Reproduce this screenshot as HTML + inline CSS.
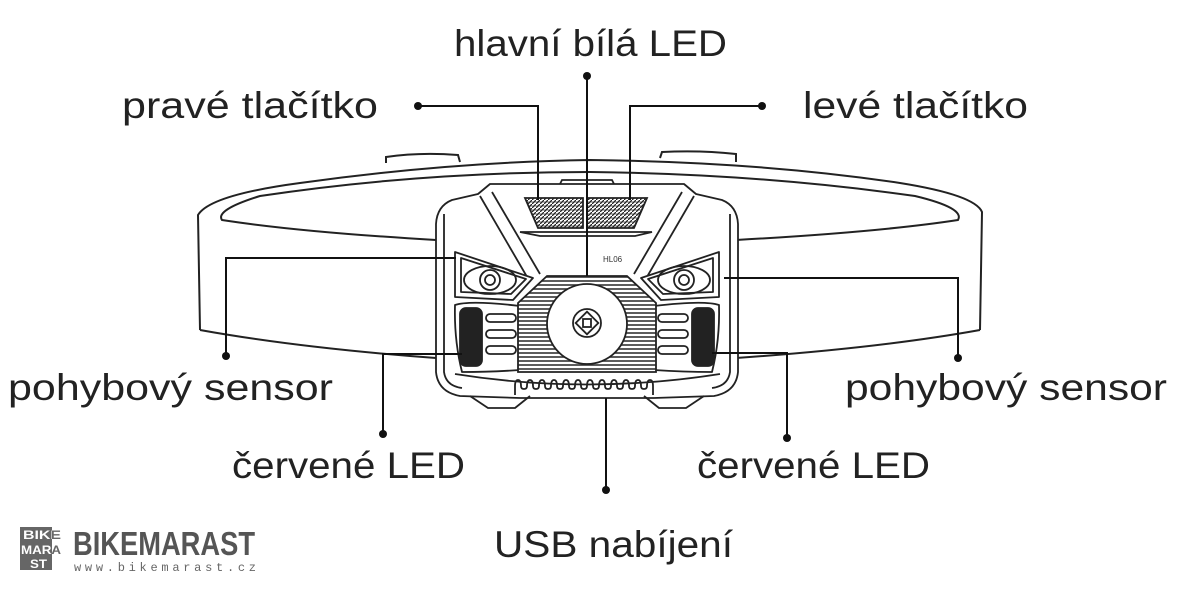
<!DOCTYPE html>
<html><head><meta charset="utf-8"><style>
html,body{margin:0;padding:0;background:#fff;}
svg{display:block;}
.t{font-family:"Liberation Sans",sans-serif;font-size:37px;fill:#222;}
</style></head><body>
<svg width="1181" height="591" viewBox="0 0 1181 591" xmlns="http://www.w3.org/2000/svg">
<defs>
<pattern id="hatch" width="4" height="4" patternUnits="userSpaceOnUse"><rect width="4" height="4" fill="#fff"/><line x1="0" y1="1" x2="4" y2="1" stroke="#333" stroke-width="1.6"/></pattern>
<pattern id="grid" width="4" height="4" patternUnits="userSpaceOnUse"><rect width="4" height="4" fill="#fff"/><path d="M0,4 L4,0" stroke="#222" stroke-width="1.3"/><path d="M0,2 L4,2" stroke="#222" stroke-width="0.6"/></pattern>
<g id="half" fill="none" stroke="#222" stroke-width="1.8" stroke-linejoin="round">
  <path d="M587,184 L490,184 L478,194 L452,200 Q437,206 436,224 L436,372 Q438,392 460,396 L520,398" fill="#fff"/>
  <path d="M444,214 L444,372 Q446,386 462,388"/>
  <path d="M480,196 L530,282"/>
  <path d="M492,192 L540,274"/>
  <polygon points="455,252 455,297 513,300 533,278" fill="#fff"/>
  <polygon points="461,258 461,292 511,294 526,279"/>
  <ellipse cx="490" cy="280" rx="26" ry="14"/>
  <circle cx="490" cy="280" r="10"/>
  <circle cx="490" cy="280" r="5"/>
  <path d="M455,305 Q470,300 520,306 L520,370 Q490,372 462,372 Q454,340 455,305Z"/>
  <rect x="460" y="308" width="22" height="58" rx="6" fill="#222"/>
  <rect x="486" y="314" width="30" height="8" rx="4"/>
  <rect x="486" y="330" width="30" height="8" rx="4"/>
  <rect x="486" y="346" width="30" height="8" rx="4"/>
  <path d="M470,396 L488,408 L515,408 L530,396"/>
</g>
</defs>

<g fill="none" stroke="#222" stroke-width="2">
  <path d="M200,330 L198,215 Q210,195 300,183 Q450,162 590,160 Q760,162 900,183 Q975,195 982,212 L980,330"/>
  <path d="M436,240 Q300,232 222,220 Q215,210 260,196 Q420,172 590,172 Q760,174 915,196 Q965,208 958,220 Q880,232 736,240"/>
  <path d="M200,330 Q300,348 436,358"/>
  <path d="M980,330 Q880,348 736,358"/>
  <path d="M386,163 L386,157 Q420,152 458,155 L460,162"/>
  <path d="M660,158 L662,152 Q700,150 736,154 L736,162"/>
</g>

<use href="#half"/>
<use href="#half" transform="translate(1174,0) scale(-1,1)"/>

<g fill="none" stroke="#222" stroke-width="1.8">
  <path d="M520,398 L654,398"/>
  <path d="M560,184 L562,180 L612,180 L614,184"/>
  <polygon points="525,198 583,198 583,228 538,228" fill="url(#grid)"/>
  <polygon points="587,198 647,198 634,228 587,228" fill="url(#grid)"/>
  <polygon points="520,232 540,236 635,236 652,232"/>
  <polygon points="547,276 627,276 656,303 656,372 518,372 518,303" fill="url(#hatch)"/>
  <circle cx="587" cy="324" r="40" fill="#fff"/>
  <circle cx="587" cy="323" r="14"/>
  <rect x="579" y="315" width="16" height="16" transform="rotate(45 587 323)"/>
  <rect x="583" y="319" width="8" height="8"/>
  <path d="M455,374 Q587,395 720,374"/>
  <path d="M515,395 L515,386 q0,-6 3,-6 q3,0 3,6 q0,3 3,3 q3,0 3,-3 q0,-6 3,-6 q3,0 3,6 q0,3 3,3 q3,0 3,-3 q0,-6 3,-6 q3,0 3,6 q0,3 3,3 q3,0 3,-3 q0,-6 3,-6 q3,0 3,6 q0,3 3,3 q3,0 3,-3 q0,-6 3,-6 q3,0 3,6 q0,3 3,3 q3,0 3,-3 q0,-6 3,-6 q3,0 3,6 q0,3 3,3 q3,0 3,-3 q0,-6 3,-6 q3,0 3,6 q0,3 3,3 q3,0 3,-3 q0,-6 3,-6 q3,0 3,6 q0,3 3,3 q3,0 3,-3 q0,-6 3,-6 q3,0 3,6 q0,3 3,3 q3,0 3,-3 q0,-6 3,-6 q3,0 3,6 q0,3 3,3 q3,0 3,-3 q0,-6 3,-6 q3,0 3,6 q0,3 3,3 q3,0 3,-3 q0,-6 3,-6 q3,0 3,6 L653,395"/>
</g>
<text x="603" y="262" font-family="Liberation Sans,sans-serif" font-size="8" fill="#333">HL06</text>

<g fill="none" stroke="#111" stroke-width="2">
  <path d="M418,106 L538,106 L538,200"/>
  <path d="M762,106 L630,106 L630,200"/>
  <path d="M587,76 L587,276"/>
  <path d="M226,356 L226,258 L456,258"/>
  <path d="M958,358 L958,278 L724,278"/>
  <path d="M383,434 L383,354 L462,354"/>
  <path d="M787,438 L787,353 L712,353"/>
  <path d="M606,490 L606,398"/>
</g>
<g fill="#111">
  <circle cx="418" cy="106" r="4"/><circle cx="762" cy="106" r="4"/>
  <circle cx="587" cy="76" r="4"/><circle cx="226" cy="356" r="4"/>
  <circle cx="958" cy="358" r="4"/><circle cx="383" cy="434" r="4"/>
  <circle cx="787" cy="438" r="4"/><circle cx="606" cy="490" r="4"/>
</g>

<text class="t" x="454" y="56" textLength="273" lengthAdjust="spacingAndGlyphs">hlavní bílá LED</text>
<text class="t" x="122" y="118" textLength="256" lengthAdjust="spacingAndGlyphs">pravé tlačítko</text>
<text class="t" x="803" y="118" textLength="225" lengthAdjust="spacingAndGlyphs">levé tlačítko</text>
<text class="t" x="8" y="400" textLength="325" lengthAdjust="spacingAndGlyphs">pohybový sensor</text>
<text class="t" x="845" y="400" textLength="322" lengthAdjust="spacingAndGlyphs">pohybový sensor</text>
<text class="t" x="232" y="478" textLength="233" lengthAdjust="spacingAndGlyphs">červené LED</text>
<text class="t" x="697" y="478" textLength="233" lengthAdjust="spacingAndGlyphs">červené LED</text>
<text class="t" x="494" y="557" textLength="239" lengthAdjust="spacingAndGlyphs">USB nabíjení</text>

<rect x="20" y="527" width="32" height="43" fill="#666"/>
<g font-family="Liberation Sans,sans-serif" font-size="12" font-weight="bold" fill="#666">
  <text x="23" y="539" textLength="38" lengthAdjust="spacingAndGlyphs">BIKE</text>
  <text x="21" y="554" textLength="40" lengthAdjust="spacingAndGlyphs">MARA</text>
  <text x="30" y="568" textLength="17" lengthAdjust="spacingAndGlyphs">ST</text>
</g>
<clipPath id="lc"><rect x="20" y="527" width="32" height="43"/></clipPath>
<g font-family="Liberation Sans,sans-serif" font-size="12" font-weight="bold" fill="#fff" clip-path="url(#lc)">
  <text x="23" y="539" textLength="38" lengthAdjust="spacingAndGlyphs">BIKE</text>
  <text x="21" y="554" textLength="40" lengthAdjust="spacingAndGlyphs">MARA</text>
  <text x="30" y="568" textLength="17" lengthAdjust="spacingAndGlyphs">ST</text>
</g>
<text x="73" y="555" font-family="Liberation Sans,sans-serif" font-size="33" font-weight="bold" fill="#555" textLength="182" lengthAdjust="spacingAndGlyphs">BIKEMARAST</text>
<text x="74" y="571" font-family="Liberation Mono,monospace" font-size="12" fill="#666" textLength="182" lengthAdjust="spacing">www.bikemarast.cz</text>
</svg>
</body></html>
